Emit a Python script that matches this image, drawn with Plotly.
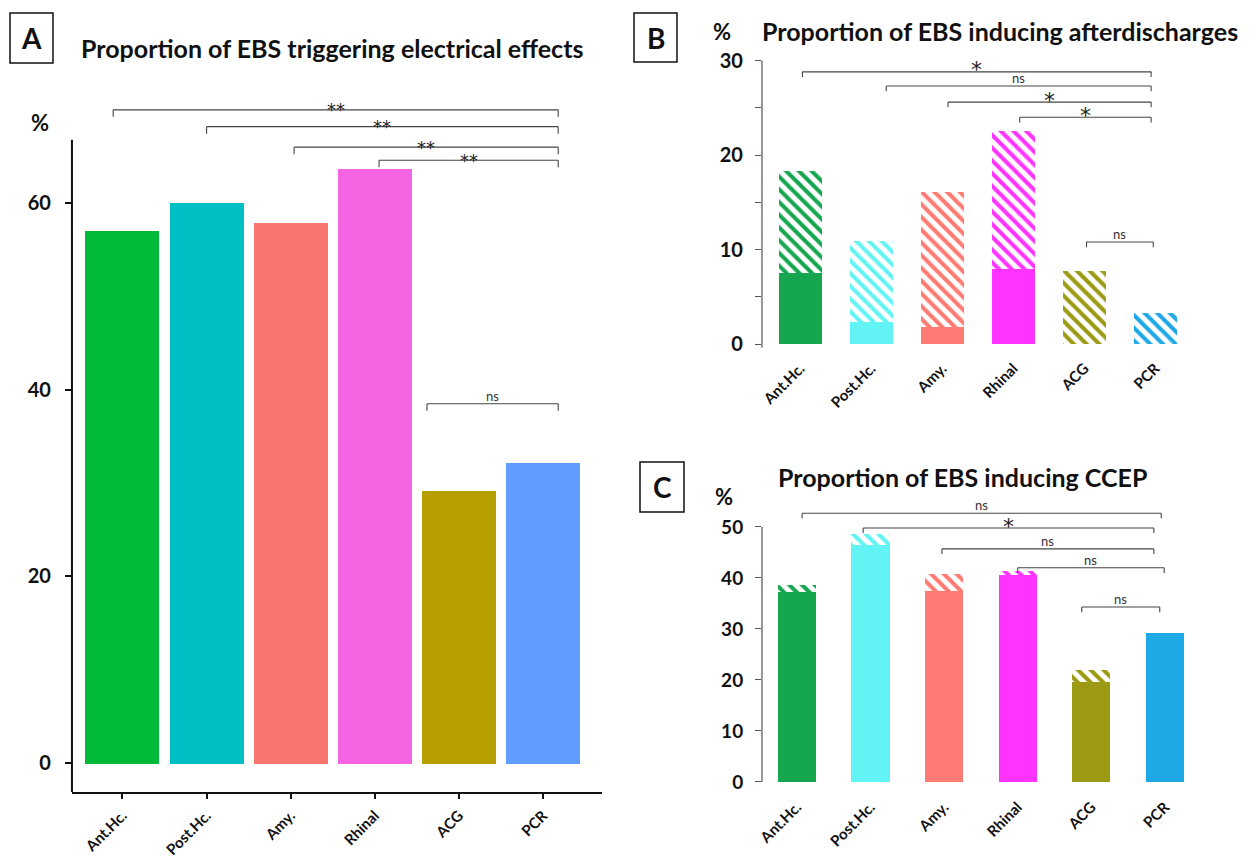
import plotly.graph_objects as go

# ---------------- data ----------------
regions = ["Ant.Hc.", "Post.Hc.", "Amy.", "Rhinal", "ACG", "PCR"]

colors_a = ["#00BA38", "#00BFC4", "#F8766D", "#F564E3", "#B79F00", "#619CFF"]
colors_bc = ["#16a650", "#62f4f4", "#ff7a72", "#ff33ff", "#9c9a12", "#1ea8e6"]

# Panel A: proportion of EBS triggering electrical effects (%)
effects_pct = [57.1, 60.1, 57.9, 63.7, 29.2, 32.2]

# Panel B: proportion of EBS inducing afterdischarges (%)
ad_solid = [7.5, 2.4, 1.8, 8.0, 0.0, 0.0]
ad_total = [18.3, 10.9, 16.1, 22.6, 7.8, 3.3]

# Panel C: proportion of EBS inducing CCEP (%)
ccep_solid = [37.3, 46.5, 37.6, 40.6, 19.6, 29.2]
ccep_total = [38.8, 48.8, 40.8, 41.4, 22.0, 29.2]

a_tickvals = [0, 20, 40, 60]
b_tickvals = [0, 5, 10, 15, 20, 25, 30]
b_ticktext = ["0", "", "10", "", "20", "", "30"]
c_tickvals = [0, 10, 20, 30, 40, 50]

# significance brackets: (from, to, level, label)
brackets_a = [(-0.11, 5.18, 70.0, "**"), (1.0, 5.18, 68.2, "**"),
              (2.04, 5.18, 66.0, "**"), (3.05, 5.18, 64.6, "**"),
              (3.62, 5.18, 38.5, "ns")]
brackets_b = [(0.03, 4.94, 28.8, "*"), (1.21, 4.94, 27.3, "ns"),
              (2.08, 4.94, 25.6, "*"), (3.09, 4.94, 24.0, "*"),
              (4.03, 4.97, 10.8, "ns")]
brackets_c = [(0.07, 4.95, 52.7, "ns"), (0.90, 4.85, 49.8, "*"),
              (1.97, 4.85, 45.7, "ns"), (3.00, 4.99, 42.0, "ns"),
              (3.87, 4.93, 34.3, "ns")]

FONT = "Lato"
W, H = 1258, 862

fig = go.Figure()


def hatch(cols):
    return dict(shape="\\", fgcolor=cols, bgcolor="white", fgopacity=1,
                size=9, solidity=0.45, fillmode="overlay")


# Panel A
fig.add_trace(go.Bar(x=regions, y=effects_pct, marker=dict(color=colors_a, line=dict(width=0)),
                     width=0.88, xaxis="x", yaxis="y", showlegend=False))

# Panel B
fig.add_trace(go.Bar(x=regions, y=ad_solid, marker=dict(color=colors_bc, line=dict(width=0)),
                     width=0.6, xaxis="x2", yaxis="y2", showlegend=False))
fig.add_trace(go.Bar(x=regions, y=[t - s for t, s in zip(ad_total, ad_solid)],
                     marker=dict(color="white", line=dict(width=0), pattern=hatch(colors_bc)),
                     width=0.6, xaxis="x2", yaxis="y2", showlegend=False))

# Panel C
fig.add_trace(go.Bar(x=regions, y=ccep_solid, marker=dict(color=colors_bc, line=dict(width=0)),
                     width=0.52, xaxis="x3", yaxis="y3", showlegend=False))
fig.add_trace(go.Bar(x=regions, y=[t - s for t, s in zip(ccep_total, ccep_solid)],
                     marker=dict(color="white", line=dict(width=0), pattern=hatch(colors_bc)),
                     width=0.52, xaxis="x3", yaxis="y3", showlegend=False))

xfont = dict(family=FONT, size=15, color="#111", weight="bold")

fig.update_layout(
    width=W, height=H,
    margin=dict(l=0, r=0, t=0, b=0, autoexpand=False),
    paper_bgcolor="white", plot_bgcolor="rgba(0,0,0,0)",
    barmode="stack", bargap=0,
    xaxis=dict(domain=[0.0572, 0.4785], range=[-0.6, 5.7], anchor="y", automargin=False,
               showline=True, linecolor="#111", linewidth=2,
               ticks="outside", ticklen=5, tickwidth=1.5, tickcolor="#111",
               tickangle=-45, tickfont=xfont, showgrid=False, zeroline=False,
               ticklabelstandoff=2),
    yaxis=dict(domain=[0.0812, 0.8834], range=[-3.1, 71], anchor="x", automargin=False,
               showline=False, tickvals=a_tickvals, ticks="outside", ticklen=6,
               tickwidth=1.5, tickcolor="#111",
               tickfont=dict(family=FONT, size=20, color="#111", weight="bold"),
               showgrid=False, zeroline=False, ticklabelstandoff=10),
    xaxis2=dict(domain=[0.6057, 0.9523], range=[-0.54, 5.6], anchor="y2", automargin=False,
                showline=False, ticks="", tickangle=-45, tickfont=xfont,
                showgrid=False, zeroline=False, ticklabelstandoff=8),
    yaxis2=dict(domain=[0.5965, 0.9331], range=[-0.4, 30.3], anchor="x2", automargin=False,
                showline=False, tickvals=b_tickvals, ticktext=b_ticktext,
                ticks="outside", ticklen=6, tickwidth=1, tickcolor="#555",
                tickfont=dict(family=FONT, size=20, color="#111", weight="bold"),
                showgrid=False, zeroline=False, ticklabelstandoff=8),
    xaxis3=dict(domain=[0.6057, 0.9611], range=[-0.475, 5.6], anchor="y3", automargin=False,
                showline=False, ticks="", tickangle=-45, tickfont=xfont,
                showgrid=False, zeroline=False, ticklabelstandoff=10),
    yaxis3=dict(domain=[0.0899, 0.4123], range=[-0.5, 54], anchor="x3", automargin=False,
                showline=False, tickvals=c_tickvals,
                ticks="outside", ticklen=6, tickwidth=1, tickcolor="#555",
                tickfont=dict(family=FONT, size=19, color="#111", weight="bold"),
                showgrid=False, zeroline=False, ticklabelstandoff=8),
)

shapes = []
# vertical axis lines
shapes.append(dict(type="line", xref="x domain", yref="y", x0=0, x1=0, y0=-3.1, y1=66.8,
                   line=dict(color="#111", width=2)))
shapes.append(dict(type="line", xref="x2 domain", yref="y2", x0=0, x1=0, y0=-0.4, y1=30,
                   line=dict(color="#555", width=1.2)))
shapes.append(dict(type="line", xref="x3 domain", yref="y3", x0=0, x1=0, y0=0, y1=50,
                   line=dict(color="#555", width=1.2)))

annotations = []


def add_brackets(brs, xr, yr, tick, star_size, star_shift):
    for x0, x1, yv, lab in brs:
        ln = dict(color="#444", width=1.1)
        shapes.append(dict(type="line", xref=xr, yref=yr, x0=x0, x1=x1, y0=yv, y1=yv, line=ln))
        shapes.append(dict(type="line", xref=xr, yref=yr, x0=x0, x1=x0, y0=yv, y1=yv - tick, line=ln))
        shapes.append(dict(type="line", xref=xr, yref=yr, x0=x1, x1=x1, y0=yv, y1=yv - tick, line=ln))
        if lab == "ns":
            annotations.append(dict(xref=xr, yref=yr, x=(x0 + x1) / 2, y=yv, text="ns",
                                    showarrow=False, yanchor="bottom", yshift=-2,
                                    font=dict(family=FONT, size=13, color="#333")))
        else:
            annotations.append(dict(xref=xr, yref=yr, x=(x0 + x1) / 2, y=yv, text=lab,
                                    showarrow=False, yanchor="middle", yshift=star_shift,
                                    font=dict(family="DejaVu Sans", size=star_size, color="#222")))


add_brackets(brackets_a, "x", "y", 0.75, 18, 0)
add_brackets(brackets_b, "x2", "y2", 0.55, 22, 2)
add_brackets(brackets_c, "x3", "y3", 1.0, 22, 2)

# panel letter boxes
for (x0, y0, x1, y1, letter) in [(10, 13, 53, 63, "A"), (634, 13, 677, 62, "B"), (640, 462, 684, 512, "C")]:
    shapes.append(dict(type="rect", xref="paper", yref="paper",
                       x0=x0 / W, x1=x1 / W, y0=1 - y1 / H, y1=1 - y0 / H,
                       line=dict(color="#111", width=1.5)))
    annotations.append(dict(xref="paper", yref="paper", x=(x0 + x1) / 2 / W,
                            y=1 - (y0 + y1) / 2 / H, text=letter, showarrow=False,
                            xanchor="center", yanchor="middle",
                            font=dict(family=FONT, size=28, color="#111", weight="bold")))

# titles and % labels
titles = [(79, 48, "Proportion of EBS triggering electrical effects"),
          (760, 31, "Proportion of EBS inducing afterdischarges"),
          (776, 477, "Proportion of EBS inducing CCEP")]
for x, y, t in titles:
    annotations.append(dict(xref="paper", yref="paper", x=x / W, y=1 - y / H, text=t,
                            showarrow=False, xanchor="left", yanchor="middle",
                            font=dict(family=FONT, size=25, color="#111", weight="bold")))
for x, y in [(40, 123), (722, 31), (724, 497)]:
    annotations.append(dict(xref="paper", yref="paper", x=x / W, y=1 - y / H, text="%",
                            showarrow=False, xanchor="center", yanchor="middle",
                            font=dict(family=FONT, size=22, color="#111", weight="bold")))

fig.update_layout(shapes=shapes, annotations=annotations)

fig.write_html("out.html", config={"displayModeBar": False},
               post_script="document.body.style.margin='0px';document.body.style.overflow='hidden';")
